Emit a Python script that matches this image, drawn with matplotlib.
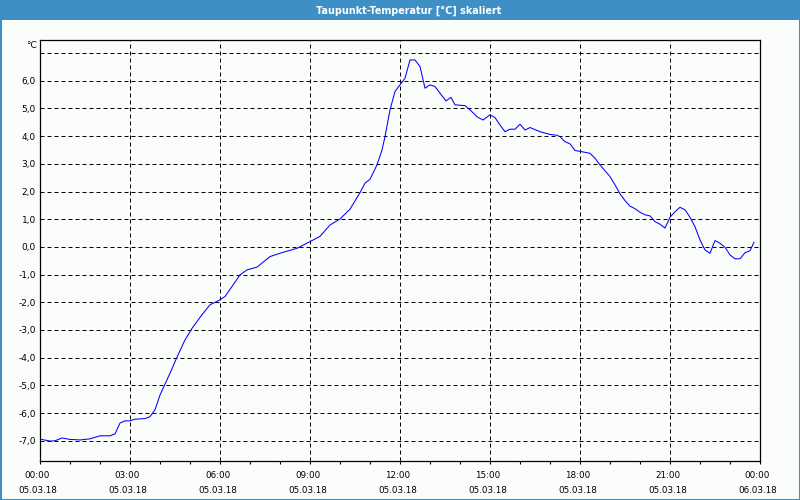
import matplotlib
matplotlib.use('Agg')
import matplotlib.pyplot as plt
from matplotlib.patches import Rectangle
import matplotlib.transforms as mtransforms

# ---- data (hours since 05.03.18 00:00, dew point in °C) ----
hours = [0.0, 0.333, 0.5, 0.733, 1.0, 1.333, 1.667, 2.0, 2.333, 2.5, 2.667, 2.833,
         3.0, 3.167, 3.5, 3.667, 3.833, 4.0, 4.333, 4.6, 4.833, 5.067, 5.4, 5.667,
         6.0, 6.167, 6.4, 6.667, 6.9, 7.233, 7.667, 8.0, 8.567, 9.0, 9.333, 9.667,
         10.0, 10.333, 10.667, 10.833, 11.0, 11.233, 11.4, 11.5, 11.667, 11.833,
         12.0, 12.167, 12.333, 12.5, 12.667, 12.833, 13.0, 13.167, 13.333, 13.533,
         13.7, 13.833, 14.167, 14.333, 14.567, 14.767, 15.0, 15.167, 15.333, 15.5,
         15.667, 15.833, 16.0, 16.167, 16.333, 16.667, 17.0, 17.233, 17.333, 17.5,
         17.667, 17.833, 18.0, 18.333, 18.5, 18.667, 18.833, 19.0, 19.167, 19.333,
         19.5, 19.667, 19.833, 20.0, 20.167, 20.333, 20.5, 20.667, 20.833, 21.0,
         21.167, 21.333, 21.5, 21.667, 21.833, 22.0, 22.167, 22.333, 22.5, 22.667,
         22.833, 23.0, 23.167, 23.333, 23.5, 23.667, 23.8]
dewpoint = [-6.94, -7.01, -7.0, -6.9, -6.95, -6.97, -6.93, -6.82, -6.82, -6.75, -6.36, -6.28,
            -6.28, -6.22, -6.20, -6.13, -5.88, -5.35, -4.56, -3.9, -3.36, -2.94, -2.45, -2.09,
            -1.91, -1.79, -1.43, -1.01, -0.83, -0.73, -0.35, -0.23, -0.05, 0.19, 0.38, 0.79,
            1.01, 1.36, 1.96, 2.30, 2.44, 2.96, 3.5, 3.98, 4.95, 5.61,
            5.85, 6.09, 6.75, 6.75, 6.51, 5.73, 5.85, 5.79, 5.55, 5.27,
            5.4, 5.13, 5.10, 4.95, 4.70, 4.58, 4.77, 4.67, 4.40, 4.16,
            4.25, 4.25, 4.43, 4.22, 4.31, 4.16, 4.06, 4.03, 3.98, 3.80,
            3.72, 3.48, 3.45, 3.38, 3.20, 2.96, 2.75, 2.54, 2.24, 1.92,
            1.67, 1.47, 1.38, 1.25, 1.16, 1.12, 0.91, 0.82, 0.68, 1.07,
            1.27, 1.43, 1.34, 1.07, 0.73, 0.25, -0.11, -0.23, 0.23, 0.13,
            -0.01, -0.29, -0.43, -0.43, -0.21, -0.14, 0.17]

y_ticks = [-7, -6, -5, -4, -3, -2, -1, 0, 1, 2, 3, 4, 5, 6]
y_grid = [-7, -6, -5, -4, -3, -2, -1, 0, 1, 2, 3, 4, 5, 6, 7]
x_ticks = [0, 3, 6, 9, 12, 15, 18, 21, 24]
x_time_labels = ['00:00', '03:00', '06:00', '09:00', '12:00', '15:00', '18:00', '21:00', '00:00']
x_date_labels = ['05.03.18'] * 8 + ['06.03.18']
title = 'Taupunkt-Temperatur [°C] skaliert'
unit = '°C'

bg = '#fbfdfb'
blue = '#3e8fc6'

fig = plt.figure(figsize=(8, 5), dpi=100, facecolor=bg)

# title bar
fig.patches.append(Rectangle((0, 1 - 20 / 500), 1, 20 / 500, transform=fig.transFigure,
                             facecolor=blue, edgecolor='none', zorder=0))
fig.patches.append(Rectangle((0, 0), 1, 1, transform=fig.transFigure, fill=False,
                             edgecolor=blue, linewidth=2.2, zorder=5))
fig.text(409 / 800, 1 - 10.5 / 500, title, color='white', fontsize=6.9, fontweight='bold',
         ha='center', va='center')

ax = fig.add_axes([40 / 800, 39 / 500, 720 / 800, 421 / 500])
ax.set_facecolor(bg)
ax.set_xlim(0, 24)
ax.set_ylim(-7.73, 7.47)

for v in y_grid:
    ax.axhline(v, color='black', linewidth=0.72, linestyle=(0, (4, 3)), zorder=1)
for h in x_ticks[1:-1]:
    ax.axvline(h, color='black', linewidth=0.72, linestyle=(0, (4, 3)), zorder=1)

ax.plot(hours, dewpoint, color='#0000ff', linewidth=0.75, zorder=3)

for s in ax.spines.values():
    s.set_linewidth(0.9)
    s.set_color('black')

ax.set_yticks(y_ticks)
ax.set_yticklabels([f"{v},0" for v in y_ticks])
ax.tick_params(axis='y', length=0, pad=3, labelsize=6.5)

ax.set_xticks(x_ticks)
ax.set_xticklabels([f"{t}\n{d}" for t, d in zip(x_time_labels, x_date_labels)],
                   linespacing=1.9)
ax.set_xticks(range(0, 25), minor=True)
ax.tick_params(axis='x', which='both', direction='out', length=2.2, width=0.8, pad=5,
               labelsize=6.3)
offset = mtransforms.ScaledTranslation(-2.5 / 100, 0, fig.dpi_scale_trans)
for lab in ax.get_xticklabels():
    lab.set_transform(lab.get_transform() + offset)

fig.text(37 / 800, 1 - 45 / 500, unit, ha='right', va='center', fontsize=6.5)

fig.savefig('out.png', dpi=100, facecolor=bg)
